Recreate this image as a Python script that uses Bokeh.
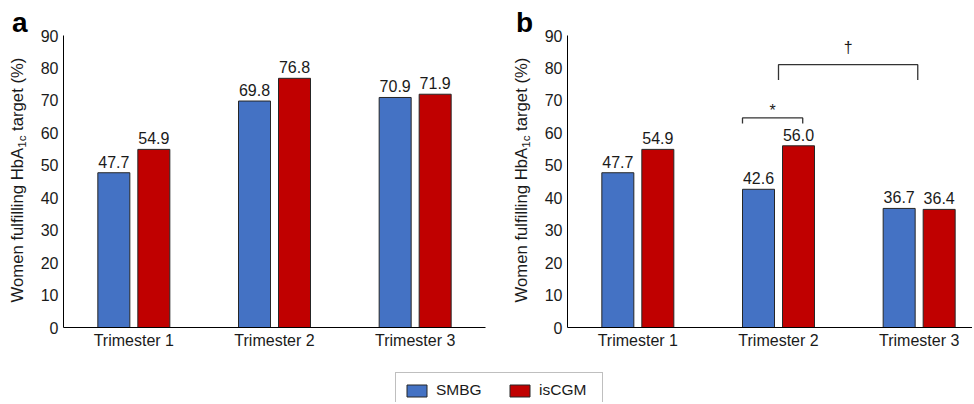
from bokeh.plotting import figure
from bokeh.models import Range1d, FixedTicker, Legend, LegendItem, ColumnDataSource, Div
from bokeh.layouts import row, column
from bokeh.core.properties import value
from bokeh.embed import file_html
from bokeh.resources import INLINE

# ---------------- data ----------------
categories = ["Trimester 1", "Trimester 2", "Trimester 3"]
series_names = ["SMBG", "isCGM"]
a_smbg = [47.7, 69.8, 70.9]
a_iscgm = [54.9, 76.8, 71.9]
b_smbg = [47.7, 42.6, 36.7]
b_iscgm = [54.9, 56.0, 36.4]
y_ticks = [0, 10, 20, 30, 40, 50, 60, 70, 80, 90]
panel_letters = ["a", "b"]
y_title_main = "Women fulfilling HbA"
y_title_sub = "1c"
y_title_tail = " target (%)"
# significance marks in panel b: (symbol, from category, to category, bracket level %)
sig_b = [("*", "Trimester 2", "Trimester 2", 64.6), ("\u2020", "Trimester 2", "Trimester 3", 81.0)]

# ---------------- style ----------------
FONT = "Liberation Sans"
TXT = "#1a1a1a"
BLUE = "#4472C4"
RED = "#C00000"
OUT = "#262626"
ROW_H = 365
FRAME_TOP = 35
FRAME_H = 292
PXU = 422 / 3.0          # px per category unit
OFF = 20 / PXU
BW = 32 / PXU
BASE_FIX = -6            # extra lift for alphabetic baseline texts


def make_panel(smbg, iscgm, frame_w, border_left, border_right, sig=None):
    x_end = 0.5 + frame_w / PXU
    p = figure(frame_width=frame_w, frame_height=FRAME_H, x_range=Range1d(0.5, x_end),
               y_range=Range1d(0, 90), output_backend="svg", toolbar_location=None, title=None,
               min_border_left=border_left, min_border_right=border_right,
               min_border_top=FRAME_TOP, min_border_bottom=ROW_H - FRAME_TOP - FRAME_H)
    p.outline_line_color = None
    p.xgrid.visible = False
    p.ygrid.visible = False
    idx = [i + 1 for i in range(len(categories))]

    for vals, col, sgn in ((smbg, BLUE, -1), (iscgm, RED, 1)):
        src = ColumnDataSource(dict(x=[i + sgn * OFF for i in idx], top=vals,
                                    label=[f"{v:.1f}" for v in vals]))
        p.vbar(x="x", top="top", bottom=0, width=BW, source=src, fill_color=col,
               line_color=OUT, line_width=1)
        p.text(x="x", y="top", text="label", source=src, text_align="center",
               text_baseline="alphabetic", y_offset=-5.0 + BASE_FIX, text_font=value(FONT),
               text_font_size="16px", text_color=TXT)

    p.yaxis.ticker = FixedTicker(ticks=y_ticks)
    p.xaxis.ticker = FixedTicker(ticks=idx)
    p.xaxis.major_label_overrides = {i: c for i, c in zip(idx, categories)}
    for ax in p.axis:
        ax.major_tick_line_color = None
        ax.minor_tick_line_color = None
        ax.major_tick_out = 0
        ax.major_tick_in = 0
        ax.axis_line_color = "black"
        ax.axis_line_width = 1
        ax.major_label_text_font = FONT
        ax.major_label_text_font_size = "16px"
        ax.major_label_text_color = TXT
    p.yaxis.major_label_standoff = 5
    p.xaxis.major_label_standoff = 4

    if sig:
        for sym, c_from, c_to, level in sig:
            i0 = categories.index(c_from) + 1
            i1 = categories.index(c_to) + 1
            if i0 == i1:
                left, right, drop, yoff = i0 - OFF - BW / 2, i0 + OFF + 0.03, 1.7, -1
            else:
                left, right, drop, yoff = i0, i1 - 0.01, 4.7, -10.7
            p.multi_line(xs=[[left, left, right, right]],
                         ys=[[level - drop, level, level, level - drop]],
                         line_color="#333333", line_width=1.3)
            p.text(x=[(left + right) / 2], y=[level], text=[sym], text_align="center",
                   text_baseline="alphabetic", y_offset=yoff + BASE_FIX, text_font=value(FONT),
                   text_font_size="16px", text_color=TXT)
    return p


def make_side(width, letter, letter_left, title_center_x):
    fs, sfs = 16.7, 11.6
    html = (
        f'<div style="position:relative;width:{width}px;height:{ROW_H}px;'
        f"font-family:'{FONT}',Arial,sans-serif;color:{TXT};\">"
        f'<div style="position:absolute;left:{letter_left}px;top:9px;font-size:28px;'
        f'font-weight:bold;line-height:1;color:#000;">{letter}</div>'
        f'<div style="position:absolute;left:{title_center_x}px;top:180px;'
        f'transform:translate(-50%,-50%) rotate(-90deg);white-space:nowrap;'
        f'font-size:{fs}px;line-height:1;">{y_title_main}'
        f'<span style="font-size:{sfs}px;position:relative;top:3px;line-height:0;">{y_title_sub}</span>'
        f'{y_title_tail}</div></div>'
    )
    return Div(text=html, width=width, height=ROW_H, margin=0)


side_a = make_side(36, panel_letters[0], 12, 18)
pa = make_panel(a_smbg, a_iscgm, 422, 27, 15)
side_b = make_side(34, panel_letters[1], 16, 22)
pb = make_panel(b_smbg, b_iscgm, 405, 33, 0, sig_b)

# legend strip
LEG_H = 37
lf = figure(width=972, height=LEG_H, x_range=Range1d(0, 1), y_range=Range1d(0, 1),
            toolbar_location=None, output_backend="svg", min_border=0,
            min_border_left=0, min_border_right=0, min_border_top=0, min_border_bottom=0,
            x_axis_type=None, y_axis_type=None, title=None)
lf.outline_line_color = None
r1 = lf.vbar(x=[-5], top=[-5], width=0.1, fill_color=BLUE, line_color=OUT)
r2 = lf.vbar(x=[-5], top=[-5], width=0.1, fill_color=RED, line_color=OUT)
leg = Legend(items=[LegendItem(label=series_names[0], renderers=[r1]),
                    LegendItem(label=series_names[1], renderers=[r2])],
             orientation="horizontal", location=(395, -6), padding=8, spacing=16,
             glyph_width=25, glyph_height=15, label_standoff=7, label_width=55,
             label_text_font=FONT, label_text_font_size="15.5px", label_text_color=TXT,
             border_line_color="#7f7f7f", border_line_width=1, background_fill_alpha=1)
lf.add_layout(leg)

layout = column(row(side_a, pa, side_b, pb), lf)
open("out.html", "w").write(file_html(layout, INLINE))
